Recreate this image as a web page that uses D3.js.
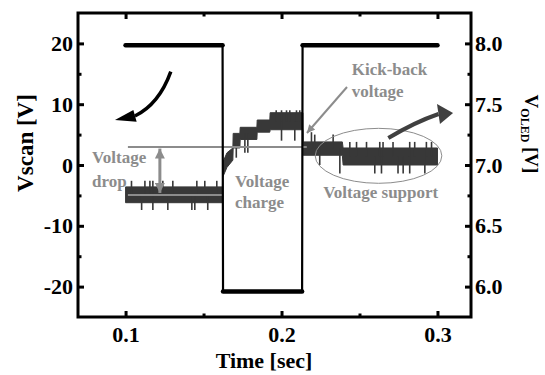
<!DOCTYPE html>
<html>
<head>
<meta charset="utf-8">
<script src="https://cdn.jsdelivr.net/npm/d3@7"></script>
<style>
body { margin: 0; background: #fff; }
text { font-family: "Liberation Serif", "Times New Roman", serif; font-weight: bold; }
</style>
</head>
<body>
<script>
// scan pulse (left axis, V)
var scanT = [0.1, 0.1622, 0.1625, 0.2132, 0.2135, 0.3];
var scanV = [19.7, 19.7, -20.8, -20.8, 19.7, 19.7];

// OLED voltage band (right axis, V) - lower / upper edge of the noisy trace
var oledT  = [0.1, 0.1621, 0.1623, 0.165, 0.1688, 0.169, 0.1733, 0.1735, 0.1842, 0.1844, 0.1925, 0.1927, 0.2137, 0.2139, 0.2390, 0.2395, 0.3];
var oledLo = [6.69, 6.69, 6.90, 6.98, 7.04, 7.14, 7.14, 7.21, 7.21, 7.27, 7.27, 7.29, 7.29, 7.08, 7.08, 7.00, 7.00];
var oledHi = [6.82, 6.82, 7.02, 7.10, 7.14, 7.26, 7.26, 7.31, 7.31, 7.37, 7.37, 7.43, 7.43, 7.19, 7.19, 7.14, 7.14];

// noise spikes on the OLED trace: time and tip voltage
var spikeT = [0.1038, 0.1124, 0.1156, 0.1175, 0.1239, 0.1303, 0.1457, 0.1508, 0.1585,
              0.1103, 0.1175, 0.1271, 0.1425, 0.1444, 0.1527,
              0.1966, 0.2, 0.2032, 0.2053, 0.2096, 0.2117,
              0.171, 0.1765, 0.1784, 0.2, 0.2085,
              0.2192, 0.2213, 0.2331, 0.2438, 0.2481, 0.2545, 0.263, 0.2651, 0.2715, 0.2822, 0.2854, 0.2929, 0.2962,
              0.2245, 0.2374, 0.2598, 0.2641, 0.2747, 0.278, 0.2822, 0.2919];
var spikeV = [6.87, 6.87, 6.87, 6.87, 6.87, 6.87, 6.87, 6.87, 6.87,
              6.63, 6.63, 6.63, 6.63, 6.63, 6.63,
              7.45, 7.45, 7.45, 7.45, 7.45, 7.45,
              7.06, 7.10, 7.10, 7.20, 7.20,
              7.27, 7.25, 7.25, 7.19, 7.19, 7.19, 7.19, 7.19, 7.19, 7.19, 7.19, 7.19, 7.19,
              7.00, 6.93, 6.93, 6.93, 6.93, 6.93, 6.93, 6.93];

var xTicks = [0.1, 0.2, 0.3];
var xMinor = [0.15, 0.25];
var yTicks = [-20, -10, 0, 10, 20];
var yMinor = [-15, -5, 5, 15];
var rTicks = [6.0, 6.5, 7.0, 7.5, 8.0];
var rMinor = [6.25, 6.75, 7.25, 7.75];

var width = 545, height = 375;
var L = 78, R = 471, T = 13, B = 317;

var svg = d3.select("body").append("svg")
    .attr("width", width)
    .attr("height", height);

var x = d3.scaleLinear().domain([0.0695, 0.3215]).range([L, R]);
var y = d3.scaleLinear().domain([-25, 25]).range([B, T]);
var yR = d3.scaleLinear().domain([5.75, 8.25]).range([B, T]);

var dark = "#383838", gray = "#8c8c8c";

// OLED band
var band = oledT.map(function(t, i) { return {t: t, lo: oledLo[i], hi: oledHi[i]}; });
svg.append("path")
    .datum(band)
    .attr("fill", dark)
    .attr("stroke", dark)
    .attr("stroke-width", 1)
    .attr("d", d3.area()
        .x(function(d) { return x(d.t); })
        .y0(function(d) { return yR(d.lo); })
        .y1(function(d) { return yR(d.hi); }));

function bandMid(t) {
    var i = d3.bisectRight(oledT, t);
    if (i <= 0) i = 1;
    if (i >= oledT.length) i = oledT.length - 1;
    var f = (t - oledT[i-1]) / (oledT[i] - oledT[i-1]);
    var lo = oledLo[i-1] + f * (oledLo[i] - oledLo[i-1]);
    var hi = oledHi[i-1] + f * (oledHi[i] - oledHi[i-1]);
    return (lo + hi) / 2;
}

svg.append("g")
    .selectAll("line")
    .data(spikeT.map(function(t, i) { return {t: t, v: spikeV[i]}; }))
    .enter().append("line")
    .attr("x1", function(d) { return x(d.t); })
    .attr("x2", function(d) { return x(d.t); })
    .attr("y1", function(d) { return yR(bandMid(d.t)); })
    .attr("y2", function(d) { return yR(d.v); })
    .attr("stroke", dark)
    .attr("stroke-width", 1.6);

// gray reference lines + voltage drop arrow
var ann = svg.append("g");
function P(t, v) { return [x(t), y(v)]; }
ann.append("line")
    .attr("x1", x(0.1015)).attr("x2", x(0.2162))
    .attr("y1", y(2.96)).attr("y2", y(2.96))
    .attr("stroke", gray).attr("stroke-width", 2);
ann.append("line")
    .attr("x1", x(0.1015)).attr("x2", x(0.1619))
    .attr("y1", y(-4.93)).attr("y2", y(-4.93))
    .attr("stroke", gray).attr("stroke-width", 2);

var defs = svg.append("defs");
function marker(id, color, w, h) {
    defs.append("marker")
        .attr("id", id)
        .attr("viewBox", "0 0 10 10")
        .attr("refX", 10).attr("refY", 5)
        .attr("markerUnits", "userSpaceOnUse")
        .attr("markerWidth", w).attr("markerHeight", h)
        .attr("orient", "auto-start-reverse")
        .append("path")
        .attr("d", "M0,0L10,5L0,10Z")
        .attr("fill", color);
}
marker("gArrow", gray, 10, 10);
marker("gArrowS", gray, 10, 8);

ann.append("line")
    .attr("x1", x(0.122)).attr("x2", x(0.122))
    .attr("y1", y(2.7)).attr("y2", y(-4.6))
    .attr("stroke", gray).attr("stroke-width", 3)
    .attr("marker-start", "url(#gArrow)")
    .attr("marker-end", "url(#gArrow)");

// kick-back arrow
ann.append("line")
    .attr("x1", x(0.2420)).attr("y1", y(12.83))
    .attr("x2", x(0.2163)).attr("y2", y(5.26))
    .attr("stroke", gray).attr("stroke-width", 2)
    .attr("marker-end", "url(#gArrowS)");

// voltage support ellipse
ann.append("ellipse")
    .attr("cx", x(0.2622)).attr("cy", y(1.51))
    .attr("rx", x(0.2622 + 0.0406) - x(0.2622))
    .attr("ry", y(1.51 - 4.52) - y(1.51))
    .attr("fill", "none").attr("stroke", gray).attr("stroke-width", 1);

// scan pulse
var scan = scanT.map(function(t, i) { return {t: t, v: scanV[i]}; });
svg.append("path")
    .datum(scan)
    .attr("fill", "none")
    .attr("stroke", "#000")
    .attr("stroke-width", 2.2)
    .attr("stroke-linejoin", "round")
    .attr("d", d3.line().x(function(d) { return x(d.t); }).y(function(d) { return y(d.v); }));
// thicker flat levels
svg.append("g").selectAll("line")
    .data(d3.pairs(scan).filter(function(p) { return p[0].v === p[1].v; }))
    .enter().append("line")
    .attr("x1", function(p) { return x(p[0].t); })
    .attr("x2", function(p) { return x(p[1].t); })
    .attr("y1", function(p) { return y(p[0].v); })
    .attr("y2", function(p) { return y(p[1].v); })
    .attr("stroke", "#000").attr("stroke-width", 4.5).attr("stroke-linecap", "round");

// curved arrows
var p0 = P(0.1290, 15.35), c0 = P(0.1215, 10.0), e0 = P(0.1060, 8.06);
svg.append("path")
    .attr("d", "M" + p0 + "Q" + c0 + " " + e0)
    .attr("fill", "none").attr("stroke", "#000").attr("stroke-width", 3.5);
svg.append("path")
    .attr("d", "M" + P(0.0932, 7.4) + "L" + P(0.1050, 9.05) + "L" + P(0.1071, 7.12) + "Z")
    .attr("fill", "#000");

var p1 = P(0.2685, 4.44), c1 = P(0.2856, 7.07), e1 = P(0.3007, 8.39);
svg.append("path")
    .attr("d", "M" + p1 + "Q" + c1 + " " + e1)
    .attr("fill", "none").attr("stroke", "#404040").attr("stroke-width", 4);
svg.append("path")
    .attr("d", "M" + P(0.3100, 8.55) + "L" + P(0.2997, 10.03) + "L" + P(0.3016, 6.74) + "Z")
    .attr("fill", "#404040");

// annotation texts
var labels = [
    ["Voltage", 0.0785, 0.33], ["drop", 0.0785, -3.57],
    ["Voltage", 0.1702, -3.57], ["charge", 0.1702, -7.07],
    ["Kick-back", 0.2450, 14.8], ["voltage", 0.2450, 11.23],
    ["Voltage support", 0.2267, -5.48]
];
svg.append("g").selectAll("text")
    .data(labels)
    .enter().append("text")
    .attr("x", function(d) { return x(d[1]); })
    .attr("y", function(d) { return y(d[2]); })
    .attr("fill", gray)
    .style("font-size", "17px")
    .text(function(d) { return d[0]; });

// frame
svg.append("rect")
    .attr("x", L).attr("y", T).attr("width", R - L).attr("height", B - T)
    .attr("fill", "none").attr("stroke", "#000").attr("stroke-width", 3);

function styleAxis(g) {
    g.select(".domain").remove();
    g.selectAll("line").attr("stroke", "#000").attr("stroke-width", 3);
    g.selectAll("text").style("font-size", "22px").attr("fill", "#000");
}

svg.append("g").attr("transform", "translate(0," + B + ")")
    .call(d3.axisBottom(x).tickValues(xTicks).tickFormat(d3.format(".1f")).tickSizeInner(-6).tickSizeOuter(0).tickPadding(9))
    .call(styleAxis);
svg.append("g").attr("transform", "translate(0," + B + ")")
    .call(d3.axisBottom(x).tickValues(xMinor).tickFormat("").tickSizeInner(-3.5).tickSizeOuter(0))
    .call(styleAxis);
svg.append("g").attr("transform", "translate(0," + T + ")")
    .call(d3.axisTop(x).tickValues(xTicks).tickFormat("").tickSizeInner(-6).tickSizeOuter(0))
    .call(styleAxis);
svg.append("g").attr("transform", "translate(0," + T + ")")
    .call(d3.axisTop(x).tickValues(xMinor).tickFormat("").tickSizeInner(-3.5).tickSizeOuter(0))
    .call(styleAxis);

svg.append("g").attr("transform", "translate(" + L + ",0)")
    .call(d3.axisLeft(y).tickValues(yTicks).tickFormat(function(d) { return String(d); })
        .tickSizeInner(-6).tickSizeOuter(0).tickPadding(5))
    .call(styleAxis);
svg.append("g").attr("transform", "translate(" + L + ",0)")
    .call(d3.axisLeft(y).tickValues(yMinor).tickFormat("").tickSizeInner(-3.5).tickSizeOuter(0))
    .call(styleAxis);

svg.append("g").attr("transform", "translate(" + R + ",0)")
    .call(d3.axisRight(yR).tickValues(rTicks).tickFormat(d3.format(".1f")).tickSizeInner(-6).tickSizeOuter(0).tickPadding(4))
    .call(styleAxis);
svg.append("g").attr("transform", "translate(" + R + ",0)")
    .call(d3.axisRight(yR).tickValues(rMinor).tickFormat("").tickSizeInner(-3.5).tickSizeOuter(0))
    .call(styleAxis);

// axis titles
svg.append("text")
    .attr("x", 264).attr("y", 368)
    .attr("text-anchor", "middle")
    .style("font-size", "22px")
    .text("Time [sec]");

svg.append("text")
    .attr("transform", "translate(33,143) rotate(-90)")
    .attr("text-anchor", "middle")
    .style("font-size", "23px")
    .text("Vscan [V]");

var rt = svg.append("text")
    .attr("transform", "translate(525,134) rotate(90)")
    .attr("text-anchor", "middle")
    .style("font-size", "19px");
rt.append("tspan").text("V");
rt.append("tspan").attr("dy", 4).style("font-size", "12px").text("OLED");
rt.append("tspan").attr("dy", -4).text(" [V]");
</script>
</body>
</html>
